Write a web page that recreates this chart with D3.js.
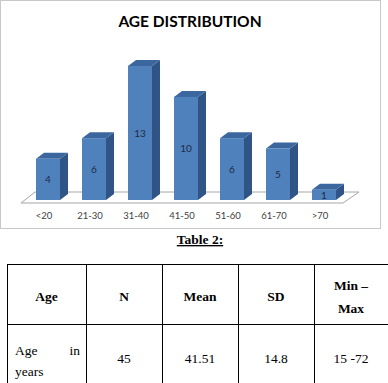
<!DOCTYPE html>
<html>
<head>
<meta charset="utf-8">
<script src="https://cdn.jsdelivr.net/npm/d3@7"></script>
<style>
  body { margin: 0; background: #fff; }
  svg { display: block; }
</style>
</head>
<body>
<svg id="chart" width="388" height="383"></svg>
<script>
// chart data
const ageGroups = ['<20', '21-30', '31-40', '41-50', '51-60', '61-70', '>70'];
const counts = [4, 6, 13, 10, 6, 5, 1];

// table data
const tableHead = ['Age', 'N', 'Mean', 'SD', 'Min –|Max'];
const tableRow = ['Age in years', '45', '41.51', '14.8', '15 -72'];

const svg = d3.select('#chart');

// frame round the chart
svg.append('rect')
  .attr('x', 0.5).attr('y', 0.5)
  .attr('width', 380).attr('height', 228)
  .attr('fill', '#fff').attr('stroke', '#c8c8c8');

svg.append('text')
  .attr('x', 190).attr('y', 27)
  .attr('text-anchor', 'middle')
  .style('font-family', 'Lato, "Open Sans", sans-serif')
  .style('font-weight', 'bold')
  .style('font-size', '15.5px')
  .attr('fill', '#000')
  .text('AGE DISTRIBUTION');

const x = d3.scaleBand()
  .domain(ageGroups)
  .range([13, 359])
  .paddingInner(0.478)
  .paddingOuter(0.5);

const base = 200;
const y = d3.scaleLinear().domain([0, 13]).range([base, 66]);

// depth of the 3d effect
const dx = 8, dy = -6;

// floor
const fx0 = x.range()[0] + 8, fx1 = x.range()[1] - 16;
svg.append('path')
  .attr('d', `M${fx0},203 L${fx0 + 14},192 L${fx1 + 16},192 L${fx1},203 Z`)
  .attr('fill', '#fff')
  .attr('stroke', '#a6a6a6')
  .attr('stroke-width', 1);

const bw = x.bandwidth();
const data = ageGroups.map((g, i) => ({ group: g, value: counts[i] }));

const bars = svg.append('g').selectAll('g')
  .data(data)
  .enter()
  .append('g');

// right side
bars.append('path')
  .attr('d', d => {
    const x1 = x(d.group) + bw, yt = y(d.value);
    return `M${x1},${yt} L${x1 + dx},${yt + dy} L${x1 + dx},${base + dy} L${x1},${base} Z`;
  })
  .attr('fill', '#2f5485');

// top
bars.append('path')
  .attr('d', d => {
    const x0 = x(d.group), yt = y(d.value);
    return `M${x0},${yt} L${x0 + dx},${yt + dy} L${x0 + bw + dx},${yt + dy} L${x0 + bw},${yt} Z`;
  })
  .attr('fill', '#3c679e');

// front
bars.append('rect')
  .attr('x', d => x(d.group))
  .attr('y', d => y(d.value))
  .attr('width', bw)
  .attr('height', d => base - y(d.value))
  .attr('fill', '#4f81bd');

// value labels
bars.append('text')
  .attr('x', d => x(d.group) + bw / 2)
  .attr('y', d => (y(d.value) + base) / 2 + 4)
  .attr('text-anchor', 'middle')
  .style('font-family', 'Lato, "Open Sans", sans-serif')
  .style('font-size', '10px')
  .attr('fill', '#1f2a44')
  .text(d => d.value);

// category labels
svg.append('g').selectAll('text')
  .data(ageGroups)
  .enter()
  .append('text')
  .attr('x', d => x(d) + bw / 2 - 4)
  .attr('y', 219)
  .attr('text-anchor', 'middle')
  .style('font-family', 'Lato, "Open Sans", sans-serif')
  .style('font-size', '9.5px')
  .attr('fill', '#404040')
  .text(d => d);

// table caption
const serif = '"Liberation Serif", "Times New Roman", serif';
svg.append('text')
  .attr('x', 200).attr('y', 244)
  .attr('text-anchor', 'middle')
  .style('font-family', serif)
  .style('font-weight', 'bold')
  .style('font-size', '13.5px')
  .style('text-decoration', 'underline')
  .text('Table 2:');

// table grid
const colX = [7, 86, 162, 238, 314, 388];
const rowY = [264, 324, 400];
const grid = svg.append('g').attr('stroke', '#000').attr('stroke-width', 1);
rowY.forEach(r => grid.append('line')
  .attr('x1', colX[0]).attr('x2', colX[colX.length - 1])
  .attr('y1', r + 0.5).attr('y2', r + 0.5));
colX.forEach(c => grid.append('line')
  .attr('x1', c + 0.5).attr('x2', c + 0.5)
  .attr('y1', rowY[0]).attr('y2', rowY[2]));

const cellMid = i => (colX[i] + colX[i + 1]) / 2;

tableHead.forEach((h, i) => {
  const lines = h.split('|');
  const t = svg.append('text')
    .attr('text-anchor', 'middle')
    .style('font-family', serif)
    .style('font-weight', 'bold')
    .style('font-size', '13.5px');
  if (lines.length === 1) {
    t.attr('x', cellMid(i)).attr('y', 301).text(h);
  } else {
    lines.forEach((l, k) => t.append('tspan')
      .attr('x', cellMid(i)).attr('y', 290 + k * 23).text(l));
  }
});

// first cell is justified over two lines
const firstWords = tableRow[0].split(' ');
svg.append('text')
  .attr('x', 15).attr('y', 355)
  .style('font-family', serif).style('font-size', '13.5px')
  .text(firstWords[0]);
svg.append('text')
  .attr('x', 80).attr('y', 355)
  .attr('text-anchor', 'end')
  .style('font-family', serif).style('font-size', '13.5px')
  .text(firstWords[1]);
svg.append('text')
  .attr('x', 15).attr('y', 376)
  .style('font-family', serif).style('font-size', '13.5px')
  .text(firstWords[2]);

tableRow.slice(1).forEach((v, i) => {
  svg.append('text')
    .attr('x', cellMid(i + 1)).attr('y', 363)
    .attr('text-anchor', 'middle')
    .style('font-family', serif)
    .style('font-size', '13.5px')
    .text(v);
});
</script>
</body>
</html>
